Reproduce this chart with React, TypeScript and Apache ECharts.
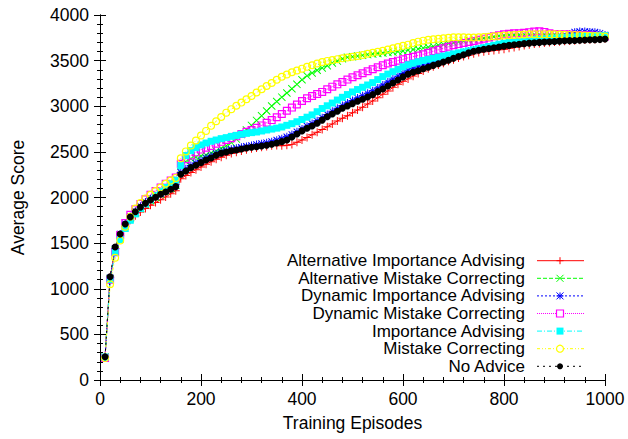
import React, { useEffect, useRef } from "react";
import * as echarts from "echarts";

const episodes: number[] = Array.from({ length: 100 }, (_, i) => (i + 1) * 10);

const seriesNames = [
  "Alternative Importance Advising",
  "Alternative Mistake Correcting",
  "Dynamic Importance Advising",
  "Dynamic Mistake Correcting",
  "Importance Advising",
  "Mistake Correcting",
  "No Advice",
];

const altImportance = [
  250, 1125, 1440, 1580, 1680, 1750, 1800, 1840, 1880, 1915,
  1945, 1975, 2005, 2040, 2075, 2205, 2240, 2275, 2305, 2335,
  2365, 2392, 2418, 2442, 2463, 2482, 2497, 2510, 2522, 2533,
  2543, 2552, 2560, 2568, 2570, 2568, 2572, 2582, 2605, 2630,
  2658, 2688, 2716, 2745, 2775, 2806, 2838, 2868, 2895, 2928,
  2959, 2990, 3025, 3058, 3094, 3132, 3168, 3204, 3240, 3270,
  3300, 3330, 3358, 3385, 3410, 3432, 3452, 3472, 3492, 3510,
  3528, 3545, 3560, 3575, 3588, 3598, 3606, 3612, 3618, 3625,
  3635, 3645, 3655, 3665, 3674, 3682, 3688, 3694, 3699, 3704,
  3708, 3712, 3716, 3719, 3722, 3725, 3728, 3731, 3735, 3740,
];

const altMistake = [
  250, 1110, 1420, 1580, 1690, 1770, 1830, 1880, 1925, 1965,
  2000, 2035, 2070, 2100, 2135, 2350, 2393, 2425, 2440, 2455,
  2466, 2488, 2510, 2540, 2568, 2602, 2640, 2690, 2740, 2790,
  2845, 2895, 2948, 3003, 3052, 3100, 3145, 3192, 3240, 3290,
  3333, 3365, 3395, 3420, 3445, 3475, 3495, 3520, 3536, 3543,
  3550, 3558, 3566, 3573, 3578, 3584, 3590, 3595, 3600, 3606,
  3615, 3622, 3628, 3637, 3646, 3656, 3668, 3678, 3688, 3697,
  3706, 3716, 3725, 3731, 3738, 3746, 3754, 3762, 3770, 3775,
  3780, 3782, 3784, 3785, 3786, 3786, 3787, 3787, 3787, 3786,
  3785, 3784, 3783, 3782, 3781, 3780, 3778, 3776, 3772, 3768,
];

const dynImportance = [
  250, 1120, 1440, 1600, 1710, 1790, 1850, 1905, 1950, 1985,
  2015, 2045, 2075, 2105, 2140, 2275, 2315, 2350, 2378, 2405,
  2432, 2455, 2480, 2500, 2515, 2528, 2540, 2550, 2560, 2570,
  2580, 2590, 2600, 2612, 2628, 2645, 2665, 2690, 2720, 2752,
  2782, 2810, 2840, 2875, 2910, 2945, 2978, 3008, 3035, 3062,
  3090, 3115, 3142, 3170, 3200, 3232, 3265, 3298, 3330, 3360,
  3390, 3412, 3432, 3452, 3470, 3490, 3508, 3525, 3542, 3558,
  3574, 3590, 3605, 3618, 3630, 3640, 3650, 3658, 3665, 3672,
  3680, 3688, 3695, 3702, 3708, 3714, 3720, 3726, 3732, 3738,
  3745, 3755, 3790, 3812, 3818, 3818, 3815, 3812, 3800, 3780,
];

const dynMistake = [
  240, 1100, 1400, 1590, 1720, 1810, 1870, 1930, 1980, 2030,
  2070, 2110, 2150, 2185, 2220, 2370, 2420, 2460, 2495, 2525,
  2545, 2565, 2590, 2610, 2630, 2650, 2670, 2695, 2720, 2740,
  2765, 2790, 2820, 2848, 2880, 2915, 2950, 2985, 3020, 3058,
  3088, 3113, 3135, 3157, 3187, 3215, 3240, 3266, 3292, 3317,
  3340, 3361, 3383, 3405, 3428, 3449, 3468, 3485, 3500, 3514,
  3530, 3543, 3556, 3569, 3586, 3602, 3618, 3635, 3652, 3668,
  3681, 3693, 3704, 3715, 3728, 3741, 3754, 3767, 3778, 3788,
  3794, 3799, 3800, 3805, 3812, 3820, 3822, 3815, 3800, 3792,
  3790, 3788, 3785, 3782, 3780, 3778, 3775, 3772, 3770, 3765,
];

const importance = [
  250, 1100, 1400, 1540, 1660, 1750, 1820, 1880, 1930, 1975,
  2020, 2065, 2110, 2150, 2190, 2350, 2460, 2513, 2546, 2576,
  2597, 2616, 2630, 2645, 2656, 2670, 2681, 2693, 2703, 2711,
  2718, 2729, 2740, 2750, 2760, 2773, 2791, 2809, 2830, 2855,
  2880, 2905, 2940, 2975, 3005, 3035, 3068, 3098, 3128, 3157,
  3183, 3208, 3233, 3259, 3292, 3325, 3352, 3379, 3405, 3432,
  3455, 3472, 3488, 3502, 3515, 3527, 3538, 3550, 3562, 3574,
  3585, 3596, 3607, 3618, 3630, 3642, 3655, 3668, 3680, 3690,
  3698, 3705, 3712, 3718, 3724, 3730, 3735, 3740, 3744, 3748,
  3752, 3755, 3758, 3761, 3764, 3767, 3770, 3772, 3774, 3776,
];

const mistake = [
  240, 1050, 1340, 1530, 1680, 1790, 1880, 1940, 1990, 2030,
  2070, 2110, 2150, 2185, 2215, 2430, 2505, 2570, 2625, 2680,
  2730, 2785, 2835, 2883, 2930, 2968, 3005, 3040, 3076, 3113,
  3150, 3186, 3222, 3255, 3290, 3322, 3348, 3372, 3392, 3412,
  3432, 3450, 3468, 3485, 3497, 3507, 3516, 3525, 3534, 3543,
  3552, 3562, 3575, 3587, 3598, 3609, 3622, 3635, 3648, 3662,
  3675, 3692, 3708, 3719, 3728, 3735, 3740, 3745, 3750, 3755,
  3756, 3756, 3754, 3753, 3755, 3758, 3762, 3766, 3770, 3774,
  3778, 3781, 3784, 3786, 3788, 3790, 3790, 3790, 3789, 3788,
  3786, 3784, 3782, 3780, 3778, 3775, 3772, 3770, 3768, 3765,
];

const noAdvice = [
  255, 1132, 1458, 1600, 1710, 1786, 1843, 1893, 1936, 1973,
  2002, 2035, 2060, 2090, 2119, 2255, 2291, 2327, 2353, 2382,
  2411, 2433, 2462, 2484, 2499, 2513, 2521, 2532, 2543, 2550,
  2557, 2565, 2572, 2583, 2597, 2612, 2630, 2662, 2695, 2730,
  2758, 2784, 2813, 2848, 2884, 2915, 2945, 2978, 3003, 3029,
  3055, 3077, 3102, 3127, 3160, 3190, 3222, 3255, 3288, 3322,
  3352, 3372, 3390, 3410, 3428, 3448, 3466, 3484, 3505, 3525,
  3545, 3565, 3585, 3602, 3614, 3625, 3633, 3642, 3650, 3659,
  3667, 3674, 3680, 3686, 3692, 3696, 3700, 3704, 3707, 3710,
  3714, 3717, 3719, 3721, 3723, 3726, 3728, 3730, 3733, 3737,
];

const yTickValues = [0, 500, 1000, 1500, 2000, 2500, 3000, 3500, 4000];
const xTickValues = [0, 200, 400, 600, 800, 1000];

const allValues = [altImportance, altMistake, dynImportance, dynMistake, importance, mistake, noAdvice];
const colors = ["#ff0000", "#00ff00", "#0000ff", "#ff00ff", "#00ffff", "#ffff00", "#000000"];
const dashes: (number[] | "solid")[] = ["solid", [4, 2], [2, 2], [1, 1], [5, 2, 1, 2], [3, 2, 1, 2, 1, 2], [2, 4]];
const markerKinds = ["plus", "cross", "star", "hollowSquare", "square", "hollowCircle", "circle"];
const markerSizes = [8, 8, 8, 8, 7, 8, 7];

const symbolPaths: Record<string, string> = {
  plus: "path://M4.4,0H5.6V10H4.4Z M0,4.4H10V5.6H0Z",
  cross: "path://M0,0.85L0.85,0L10,9.15L9.15,10Z M9.15,0L10,0.85L0.85,10L0,9.15Z",
  star: "path://M4.4,0H5.6V10H4.4Z M0,4.4H10V5.6H0Z M0.5,1.35L1.35,0.5L9.5,8.65L8.65,9.5Z M8.65,0.5L9.5,1.35L1.35,9.5L0.5,8.65Z",
  hollowSquare: "path://M0,0H10V10H0Z M1.5,1.5V8.5H8.5V1.5Z",
  square: "rect",
  hollowCircle: "path://M5,0A5,5,0,1,1,5,10A5,5,0,1,1,5,0Z M5,1.5A3.5,3.5,0,1,0,5,8.5A3.5,3.5,0,1,0,5,1.5Z",
  circle: "circle",
};

const FONT = '"Liberation Sans", Arial, sans-serif';
const FS = 17.5;
const LEGEND_FS = 17;

function legendMarker(kind: string, cx: number, cy: number, color: string): any[] {
  const r = 3.5;
  const ls = { stroke: color, lineWidth: 1 };
  switch (kind) {
    case "plus":
      return [
        { type: "line", shape: { x1: cx - r, y1: cy, x2: cx + r, y2: cy }, style: ls },
        { type: "line", shape: { x1: cx, y1: cy - r, x2: cx, y2: cy + r }, style: ls },
      ];
    case "cross":
      return [
        { type: "line", shape: { x1: cx - r, y1: cy - r, x2: cx + r, y2: cy + r }, style: ls },
        { type: "line", shape: { x1: cx - r, y1: cy + r, x2: cx + r, y2: cy - r }, style: ls },
      ];
    case "star":
      return [
        { type: "line", shape: { x1: cx - r, y1: cy, x2: cx + r, y2: cy }, style: ls },
        { type: "line", shape: { x1: cx, y1: cy - r, x2: cx, y2: cy + r }, style: ls },
        { type: "line", shape: { x1: cx - r, y1: cy - r, x2: cx + r, y2: cy + r }, style: ls },
        { type: "line", shape: { x1: cx - r, y1: cy + r, x2: cx + r, y2: cy - r }, style: ls },
      ];
    case "hollowSquare":
      return [{ type: "rect", shape: { x: cx - r, y: cy - r, width: 2 * r, height: 2 * r }, style: { stroke: color, lineWidth: 1.2, fill: "#fff" } }];
    case "square":
      return [{ type: "rect", shape: { x: cx - r, y: cy - r, width: 2 * r, height: 2 * r }, style: { fill: color } }];
    case "hollowCircle":
      return [{ type: "circle", shape: { cx, cy, r }, style: { stroke: color, lineWidth: 1.2, fill: "#fff" } }];
    default:
      return [{ type: "circle", shape: { cx, cy, r: 3 }, style: { fill: color } }];
  }
}

export default function App() {
  const ref = useRef<HTMLDivElement>(null);

  useEffect(() => {
    if (!ref.current) return;
    const chart = echarts.init(ref.current, undefined, { renderer: "svg" });

    const series = seriesNames.map((name, i) => ({
      name,
      type: "line",
      data: episodes.map((ep, j) => [ep, allValues[i][j]]),
      showSymbol: true,
      showAllSymbol: true,
      symbol: symbolPaths[markerKinds[i]],
      symbolSize: markerSizes[i],
      lineStyle: { color: colors[i], width: 1, type: dashes[i] },
      itemStyle: { color: colors[i], borderWidth: 0 },
      emphasis: { disabled: true },
      silent: true,
      xAxisIndex: 0,
      yAxisIndex: 0,
    }));

    const legendGraphics: any[] = [];
    seriesNames.forEach((name, i) => {
      const y = 260.7 + i * 17.6;
      legendGraphics.push({
        type: "text",
        style: {
          text: name,
          x: 525,
          y,
          align: "right",
          verticalAlign: "middle",
          font: `${LEGEND_FS}px ${FONT}`,
          fill: "#000",
        },
      });
      legendGraphics.push({
        type: "line",
        shape: { x1: 537, y1: y, x2: 584, y2: y },
        style: { stroke: colors[i], lineWidth: 1, lineDash: dashes[i] === "solid" ? null : dashes[i] },
      });
      legendMarker(markerKinds[i], 560, y, colors[i]).forEach((g) => legendGraphics.push(g));
    });

    const tickCommon = {
      axisLine: { show: true, lineStyle: { color: "#000", width: 1 } },
      axisTick: { show: true, inside: true, length: 6, lineStyle: { color: "#000" } },
      minorTick: { show: true, splitNumber: 5, length: 3, lineStyle: { color: "#000" } },
      splitLine: { show: false },
    };
    const plain = (v: number) => String(v);

    chart.setOption({
      animation: false,
      backgroundColor: "#fff",
      grid: { left: 100, top: 15, width: 505, height: 365, containLabel: false },
      xAxis: [
        {
          type: "value",
          min: xTickValues[0],
          max: xTickValues[xTickValues.length - 1],
          interval: 200,
          position: "bottom",
          name: "Training Episodes",
          nameLocation: "middle",
          nameGap: 34,
          nameTextStyle: { fontFamily: FONT, fontSize: FS, color: "#000" },
          axisLabel: { fontFamily: FONT, fontSize: FS, color: "#000", margin: 10, formatter: plain },
          ...tickCommon,
        },
        {
          type: "value",
          min: xTickValues[0],
          max: xTickValues[xTickValues.length - 1],
          interval: 200,
          position: "top",
          axisLabel: { show: false },
          ...tickCommon,
        },
      ],
      yAxis: [
        {
          type: "value",
          min: yTickValues[0],
          max: yTickValues[yTickValues.length - 1],
          interval: 500,
          position: "left",
          name: "Average Score",
          nameLocation: "middle",
          nameGap: 73,
          nameTextStyle: { fontFamily: FONT, fontSize: FS, color: "#000" },
          axisLabel: { fontFamily: FONT, fontSize: FS, color: "#000", margin: 11, formatter: plain },
          ...tickCommon,
        },
        {
          type: "value",
          min: yTickValues[0],
          max: yTickValues[yTickValues.length - 1],
          interval: 500,
          position: "right",
          axisLabel: { show: false },
          ...tickCommon,
        },
      ],
      series,
      graphic: legendGraphics,
    });

    return () => chart.dispose();
  }, []);

  return <div ref={ref} style={{ position: "absolute", left: 0, top: 0, width: 628, height: 439 }} />;
}
